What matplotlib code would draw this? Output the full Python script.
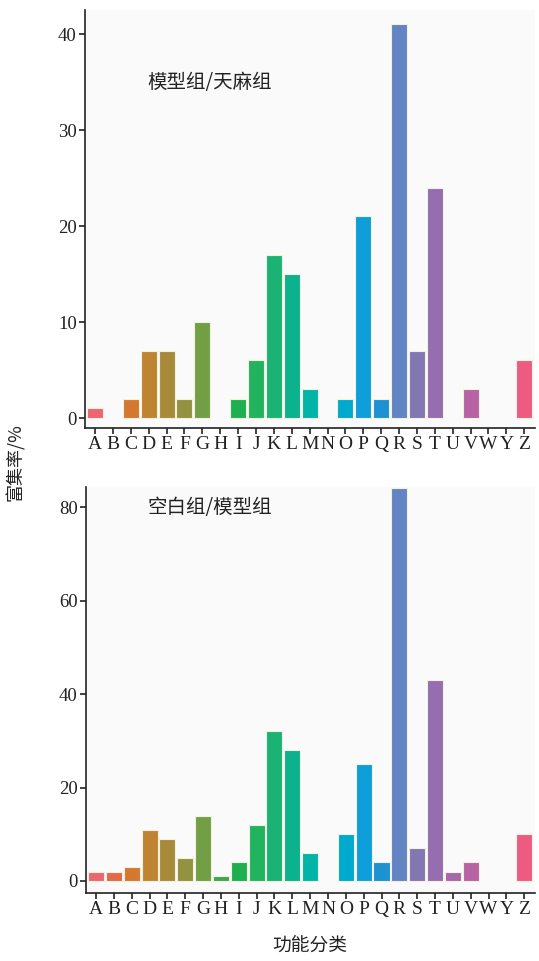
import matplotlib.pyplot as plt
import numpy as np

# function categories (no X)
cats = ['A', 'B', 'C', 'D', 'E', 'F', 'G', 'H', 'I', 'J', 'K', 'L', 'M',
        'N', 'O', 'P', 'Q', 'R', 'S', 'T', 'U', 'V', 'W', 'Y', 'Z']

# enrichment rate (%)
top_vals = [1, 0, 2, 7, 7, 2, 10, 0, 2, 6, 17, 15, 3,
            0, 2, 21, 2, 41, 7, 24, 0, 3, 0, 0, 6]
bottom_vals = [2, 2, 3, 11, 9, 5, 14, 1, 4, 12, 32, 28, 6,
               0, 10, 25, 4, 84, 7, 43, 2, 4, 0, 0, 10]

top_title = '模型组/天麻组'
bottom_title = '空白组/模型组'

colors = ['#EE6470', '#E26A48', '#D4782E', '#BF8432', '#A88B3A', '#939240',
          '#729F45', '#3AA84C', '#1EB050', '#22B35E', '#1AB374', '#0CB18E',
          '#00B4A8', '#00B0BE', '#00AACE', '#0E9FDB', '#1C92D3', '#6284C2',
          '#8177B2', '#966EAF', '#A766AA', '#B863A4', '#C9629A', '#DE5F8C',
          '#EE5B82']

serif = ['Liberation Serif', 'DejaVu Serif']
cjk = ['Noto Sans CJK SC', 'DejaVu Sans']
bg = '#FAFAFA'

fig = plt.figure(figsize=(5.39, 9.61), dpi=100)
fig.patch.set_facecolor('white')

x = np.arange(len(cats))


def draw_panel(ax, vals, ylim, yticks, title, title_y):
    ax.set_facecolor(bg)
    # no outline on empty categories
    lw = [0.8 if v > 0 else 0 for v in vals]
    ax.bar(x, vals, width=0.9, color=colors, edgecolor='#F4F0E0', linewidth=lw)
    ax.set_xlim(-0.56, len(cats) - 0.4)
    ax.set_ylim(*ylim)
    ax.set_xticks(x)
    ax.set_xticklabels(cats, family=serif, fontsize=14, color='#222222')
    ax.set_yticks(yticks)
    ax.set_yticklabels([str(t) for t in yticks], family=serif, fontsize=13.5,
                       color='#222222')
    for s in ['top', 'right']:
        ax.spines[s].set_visible(False)
    for s in ['left', 'bottom']:
        ax.spines[s].set_color('#222222')
        ax.spines[s].set_linewidth(1.2)
    ax.tick_params(axis='both', length=4, width=1.2, color='#222222', pad=2)
    ax.text(2.9, title_y, title, family=cjk, fontsize=14, color='#222222',
            va='center', ha='left')


# top panel
ax1 = fig.add_axes([85 / 539, 1 - 428 / 961, 450 / 539, 418 / 961])
draw_panel(ax1, top_vals, (-1.04, 42.5), [0, 10, 20, 30, 40], top_title, 35.0)

# bottom panel
ax2 = fig.add_axes([86 / 539, 1 - 893 / 961, 449 / 539, 406 / 961])
draw_panel(ax2, bottom_vals, (-2.57, 84.3), [0, 20, 40, 60, 80], bottom_title, 80.0)

fig.text(15 / 539, 1 - 462 / 961, '富集率/%', family=cjk, fontsize=13,
         rotation=90, ha='center', va='center', color='#222222')
fig.text(310 / 539, 1 - 946 / 961, '功能分类', family=cjk, fontsize=13.5,
         ha='center', va='center', color='#222222')

plt.savefig('out.png', dpi=100, facecolor='white')
